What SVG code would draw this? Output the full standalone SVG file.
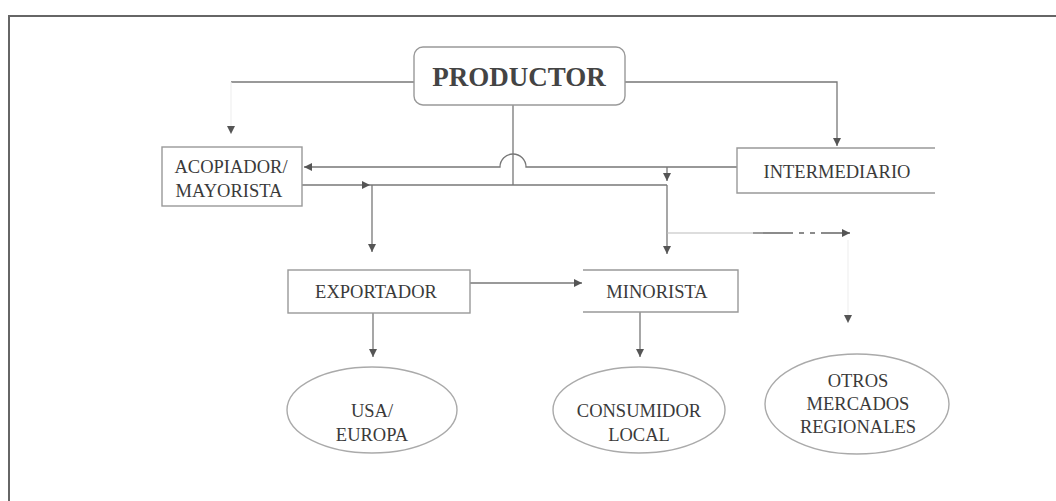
<svg xmlns="http://www.w3.org/2000/svg" width="1056" height="501" viewBox="0 0 1056 501">
<style>
.frame{fill:none;stroke:#666;stroke-width:2}
.box{fill:none;stroke:#999;stroke-width:1.4}
.ell{fill:none;stroke:#aaa;stroke-width:1.4}
.ln{fill:none;stroke:#777;stroke-width:1.3}
.faint{fill:none;stroke:#f0f0f0;stroke-width:1.2}
.light{fill:none;stroke:#bbb;stroke-width:1.2}
.dash{fill:none;stroke:#666;stroke-width:1.3;stroke-dasharray:40 6 5 6 5 6}
.lbl{font-family:"Liberation Serif","Times New Roman",serif;font-size:18.5px;fill:#3a3a3a;text-anchor:middle}
.big{font-family:"Liberation Serif","Times New Roman",serif;font-size:27px;font-weight:bold;fill:#444;text-anchor:middle}
</style>
<defs>
<marker id="ah" markerUnits="userSpaceOnUse" markerWidth="10" markerHeight="10" viewBox="0 0 10 10" refX="9" refY="5" orient="auto">
<path d="M1,1 L9,5 L1,9 Z" fill="#555"/>
</marker>
</defs>
<rect width="1056" height="501" fill="#fff"/>
<path class="frame" d="M9,501 V16 H1056"/>

<g id="connectors">
<path class="ln" d="M414,82 H231"/>
<path class="faint" d="M231,82 V134" marker-end="url(#ah)"/>
<path class="ln" d="M625,82 H837 V146" marker-end="url(#ah)"/>
<path class="ln" d="M513,105 V185"/>
<path class="ln" d="M737,167 H526 A13,13 0 0 0 500,167 H304" marker-end="url(#ah)"/>
<path class="ln" d="M667,167 V181" marker-end="url(#ah)"/>
<path class="ln" d="M302,185 H370" marker-end="url(#ah)"/>
<path class="ln" d="M370,185 H667"/>
<path class="ln" d="M372,185 V252" marker-end="url(#ah)"/>
<path class="ln" d="M667,185 V254" marker-end="url(#ah)"/>
<path class="light" d="M667,233 H753"/>
<path class="dash" d="M753,233 H850" marker-end="url(#ah)"/>
<path class="faint" d="M848,240 V323" marker-end="url(#ah)"/>
<path class="ln" d="M470,283 H582" marker-end="url(#ah)"/>
<path class="ln" d="M373,313 V357" marker-end="url(#ah)"/>
<path class="ln" d="M640,312 V357" marker-end="url(#ah)"/>
</g>

<g id="productor">
<rect class="box" x="414" y="47" width="211" height="58" rx="9"/>
<text class="big" x="519" y="86">PRODUCTOR</text>
</g>

<g id="acopiador">
<rect class="box" x="162" y="147" width="140" height="59"/>
<text class="lbl" x="231" y="173">ACOPIADOR/</text>
<text class="lbl" x="229" y="197">MAYORISTA</text>
</g>

<g id="intermediario">
<path class="box" d="M935,148 H737 V193 H935"/>
<text class="lbl" x="837" y="178">INTERMEDIARIO</text>
</g>

<g id="exportador">
<rect class="box" x="288" y="270" width="182" height="43"/>
<text class="lbl" x="376" y="298">EXPORTADOR</text>
</g>

<g id="minorista">
<path class="box" d="M583,270 H738 V312 H583"/>
<text class="lbl" x="657" y="298">MINORISTA</text>
</g>

<g id="usa-europa">
<ellipse class="ell" cx="372" cy="410" rx="85" ry="43"/>
<text class="lbl" x="372" y="417">USA/</text>
<text class="lbl" x="372" y="441">EUROPA</text>
</g>

<g id="consumidor-local">
<ellipse class="ell" cx="639" cy="410" rx="86" ry="43"/>
<text class="lbl" x="639" y="417">CONSUMIDOR</text>
<text class="lbl" x="639" y="441">LOCAL</text>
</g>

<g id="otros-mercados">
<ellipse class="ell" cx="857" cy="404" rx="92" ry="50"/>
<text class="lbl" x="858" y="387">OTROS</text>
<text class="lbl" x="858" y="410">MERCADOS</text>
<text class="lbl" x="858" y="433">REGIONALES</text>
</g>
</svg>
